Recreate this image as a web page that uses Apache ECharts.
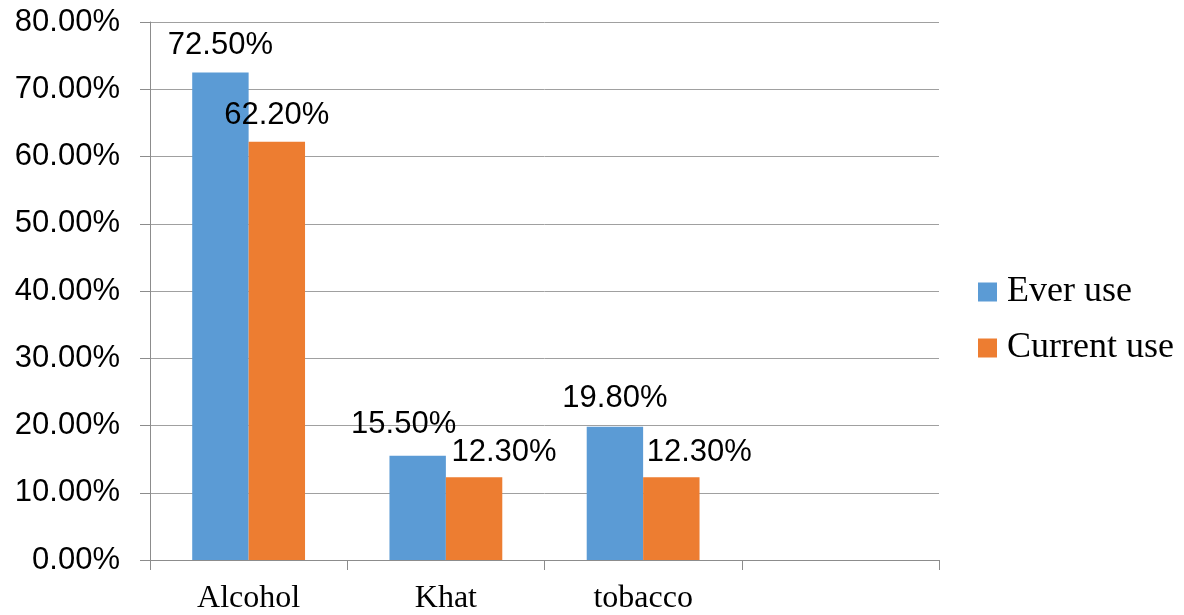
<!DOCTYPE html>
<html>
<head>
<meta charset="utf-8">
<style>html,body{margin:0;padding:0;background:#fff;}#c{width:1184px;height:615px;}</style>
<script src="https://cdn.jsdelivr.net/npm/echarts@6/dist/echarts.min.js"></script>
</head>
<body>
<div id="c"></div>
<script>
var categories = ['Alcohol', 'Khat', 'tobacco', ''];
var everUse = [72.5, 15.5, 19.8, null];
var currentUse = [62.2, 12.3, 12.3, null];
var seriesNames = ['Ever use', 'Current use'];

// label offsets (style only), per category
var everOffsets = [[0, 0], [-14, -5], [0, -2], [0, 0]];
var currentOffsets = [[0, 0], [30, 2], [28, 2], [0, 0]];

function items(vals, offs) {
  return vals.map(function (v, i) {
    return { value: v, label: { offset: offs[i] } };
  });
}

var chart = echarts.init(document.getElementById('c'));
var labelStyle = {
  show: true,
  position: 'top',
  distance: 11,
  fontFamily: 'Liberation Sans, Arial, sans-serif',
  fontSize: 31,
  color: '#000',
  formatter: function (p) { return p.value == null ? '' : p.value.toFixed(2) + '%'; }
};
chart.setOption({
  animation: false,
  grid: { left: 150, right: 245, top: 22, bottom: 55 },
  legend: {
    orient: 'vertical',
    left: 973,
    top: 269,
    itemWidth: 19,
    itemHeight: 19,
    itemGap: 20,
    icon: 'rect',
    textStyle: { fontFamily: 'Liberation Serif, Times New Roman, serif', fontSize: 36, color: '#000', padding: [0, 0, 0, 5] },
    data: seriesNames
  },
  xAxis: {
    type: 'category',
    data: categories,
    boundaryGap: true,
    axisLine: { lineStyle: { color: '#8c8c8c', width: 1 } },
    axisTick: { show: true, length: 10, alignWithLabel: false, lineStyle: { color: '#8c8c8c' } },
    axisLabel: { fontFamily: 'Liberation Serif, Times New Roman, serif', fontSize: 32, color: '#000', margin: 23, interval: 0 },
    splitLine: { show: false }
  },
  yAxis: {
    type: 'value',
    min: 0,
    max: 80,
    interval: 10,
    axisLine: { show: true, lineStyle: { color: '#8c8c8c', width: 1 } },
    axisTick: { show: true, length: 10, lineStyle: { color: '#8c8c8c' } },
    axisLabel: {
      fontFamily: 'Liberation Sans, Arial, sans-serif', fontSize: 31, color: '#000', margin: 30,
      formatter: function (v) { return v.toFixed(2) + '%'; }
    },
    splitLine: { show: true, lineStyle: { color: '#a0a0a0', width: 1 } }
  },
  series: [
    {
      name: seriesNames[0], type: 'bar', data: items(everUse, everOffsets),
      barGap: '0%', barCategoryGap: '42.8%',
      itemStyle: { color: '#5b9bd5' },
      label: labelStyle
    },
    {
      name: seriesNames[1], type: 'bar', data: items(currentUse, currentOffsets),
      barGap: '0%', barCategoryGap: '42.8%',
      itemStyle: { color: '#ed7d31' },
      label: labelStyle
    }
  ]
});
</script>
</body>
</html>
